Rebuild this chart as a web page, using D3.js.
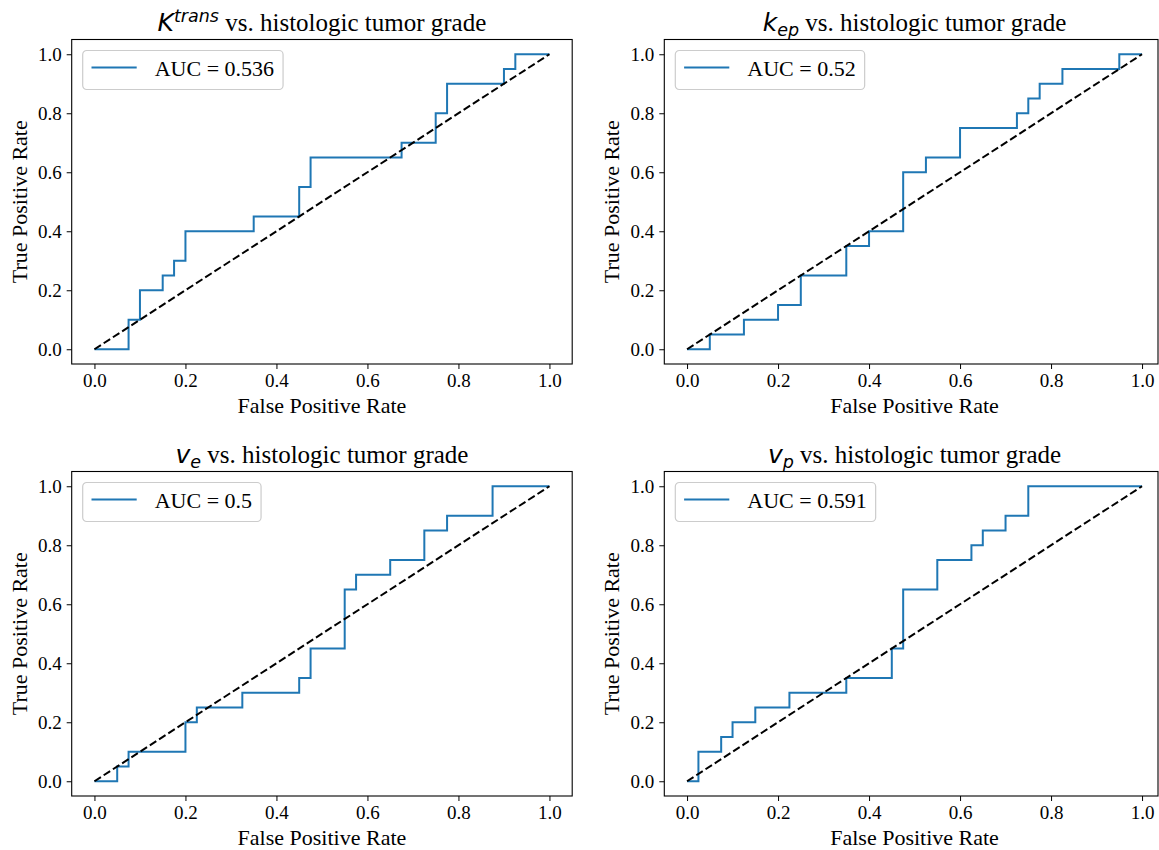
<!DOCTYPE html>
<html>
<head>
<meta charset="utf-8">
<script src="https://cdn.jsdelivr.net/npm/d3@7"></script>
<style>
  body { margin: 0; background: #fff; }
  .tick text { font-family: "Liberation Serif", "Times New Roman", serif; font-size: 19px; fill: #000; }
  .axis path, .axis line { stroke: #000; }
</style>
</head>
<body>
<script>
// ---------------- data: ROC corner points (fpr, tpr) for each parameter ----------------
var ktransFpr = [0, 0.075, 0.1, 0.15, 0.175, 0.2, 0.35, 0.45, 0.475, 0.675, 0.75, 0.775, 0.9, 0.925, 1.0];
var ktransTpr = [0, 0.1, 0.2, 0.25, 0.3, 0.4, 0.45, 0.55, 0.65, 0.7, 0.8, 0.9, 0.95, 1.0, 1.0];

var kepFpr = [0, 0.05, 0.125, 0.2, 0.25, 0.35, 0.4, 0.475, 0.525, 0.6, 0.725, 0.75, 0.775, 0.825, 0.95, 1.0];
var kepTpr = [0, 0.05, 0.1, 0.15, 0.25, 0.35, 0.4, 0.6, 0.65, 0.75, 0.8, 0.85, 0.9, 0.95, 1.0, 1.0];

var veFpr = [0, 0.05, 0.075, 0.2, 0.225, 0.325, 0.45, 0.475, 0.55, 0.575, 0.65, 0.725, 0.775, 0.875, 1.0];
var veTpr = [0, 0.05, 0.1, 0.2, 0.25, 0.3, 0.35, 0.45, 0.65, 0.7, 0.75, 0.85, 0.9, 1.0, 1.0];

var vpFpr = [0, 0.025, 0.075, 0.1, 0.15, 0.225, 0.35, 0.45, 0.475, 0.55, 0.625, 0.65, 0.7, 0.75, 1.0];
var vpTpr = [0, 0.1, 0.15, 0.2, 0.25, 0.3, 0.35, 0.45, 0.65, 0.75, 0.8, 0.85, 0.9, 1.0, 1.0];

var aucLabels = ["AUC = 0.536", "AUC = 0.52", "AUC = 0.5", "AUC = 0.591"];
var titleBase = ["K", "k", "v", "v"];
var titleScript = ["trans", "ep", "e", "p"];
var titleScriptSup = [true, false, false, false];
var tickValues = [0, 0.2, 0.4, 0.6, 0.8, 1.0];

var width = 1159, height = 850;
var serif = '"Liberation Serif", "Times New Roman", serif';
var mathFont = '"DejaVu Sans", sans-serif';

// panel boxes (left, top) and size of each axes
var axW = 500.5, axH = 324.5;
var panels = [
  { left: 71.7,  top: 39.5,  fpr: ktransFpr, tpr: ktransTpr },
  { left: 664.3, top: 39.5,  fpr: kepFpr,    tpr: kepTpr },
  { left: 71.7,  top: 471.5, fpr: veFpr,     tpr: veTpr },
  { left: 664.3, top: 471.5, fpr: vpFpr,     tpr: vpTpr }
];

var svg = d3.select("body").append("svg")
    .attr("width", width)
    .attr("height", height)
    .style("background", "#fff");

function plot_panel(p, i) {
    var g = svg.append("g")
        .attr("transform", "translate(" + p.left + "," + p.top + ")");

    var x = d3.scaleLinear().domain([-0.05, 1.05]).range([0, axW]);
    var y = d3.scaleLinear().domain([-0.05, 1.05]).range([axH, 0]);

    var pts = p.fpr.map(function(d, k) { return [d, p.tpr[k]]; });

    // ROC step line
    var roc = d3.line()
        .x(function(d) { return x(d[0]); })
        .y(function(d) { return y(d[1]); })
        .curve(d3.curveStepAfter);

    g.append("path")
        .attr("d", roc(pts))
        .attr("fill", "none")
        .attr("stroke", "#1f77b4")
        .attr("stroke-width", 2);

    // chance diagonal
    g.append("path")
        .attr("d", d3.line()([[x(0), y(0)], [x(1), y(1)]]))
        .attr("fill", "none")
        .attr("stroke", "#000")
        .attr("stroke-width", 2)
        .attr("stroke-dasharray", "7.7,3.3");

    // frame (right panels are cut by the figure edge)
    var frameW = Math.min(axW, width - 1 - p.left);
    g.append("rect")
        .attr("width", frameW)
        .attr("height", axH)
        .attr("fill", "none")
        .attr("stroke", "#000")
        .attr("stroke-width", 1.1);

    // axes
    g.append("g")
        .attr("class", "axis")
        .attr("transform", "translate(0," + axH + ")")
        .call(d3.axisBottom(x).tickValues(tickValues).tickFormat(d3.format(".1f")).tickSizeOuter(0).tickSize(5).tickPadding(5))
        .call(function(a) { a.select(".domain").remove(); });

    g.append("g")
        .attr("class", "axis")
        .call(d3.axisLeft(y).tickValues(tickValues).tickFormat(d3.format(".1f")).tickSizeOuter(0).tickSize(5).tickPadding(5))
        .call(function(a) { a.select(".domain").remove(); });

    // axis labels
    g.append("text")
        .attr("x", axW / 2)
        .attr("y", axH + 49)
        .attr("text-anchor", "middle")
        .style("font-family", serif)
        .style("font-size", "22px")
        .text("False Positive Rate");

    g.append("text")
        .attr("transform", "translate(-45," + (axH / 2) + ") rotate(-90)")
        .attr("text-anchor", "middle")
        .style("font-family", serif)
        .style("font-size", "22px")
        .text("True Positive Rate");

    // title: math part + serif part
    var t = g.append("text")
        .attr("x", axW / 2)
        .attr("y", -8.5)
        .attr("text-anchor", "middle")
        .style("font-size", "25px");
    t.append("tspan")
        .style("font-family", mathFont)
        .style("font-style", "italic")
        .text(titleBase[i]);
    var shift = titleScriptSup[i] ? -9.5 : 5;
    t.append("tspan")
        .attr("dy", shift)
        .style("font-family", mathFont)
        .style("font-style", "italic")
        .style("font-size", "17.5px")
        .text(titleScript[i]);
    t.append("tspan")
        .attr("dy", -shift)
        .style("font-family", serif)
        .text(" vs. histologic tumor grade");

    // legend
    var lg = g.append("g").attr("transform", "translate(11,11)");
    var box = lg.append("rect")
        .attr("rx", 4).attr("ry", 4)
        .attr("height", 39)
        .attr("fill", "rgba(255,255,255,0.8)")
        .attr("stroke", "#cccccc")
        .attr("stroke-width", 1.2);
    lg.append("line")
        .attr("x1", 8.8).attr("x2", 54)
        .attr("y1", 17).attr("y2", 17)
        .attr("stroke", "#1f77b4")
        .attr("stroke-width", 2);
    var lt = lg.append("text")
        .attr("x", 72)
        .attr("y", 25)
        .style("font-family", serif)
        .style("font-size", "22px")
        .text(aucLabels[i]);
    var tw = lt.node().getComputedTextLength();
    box.attr("width", 72 + tw + 9);
}

panels.forEach(plot_panel);
</script>
</body>
</html>
